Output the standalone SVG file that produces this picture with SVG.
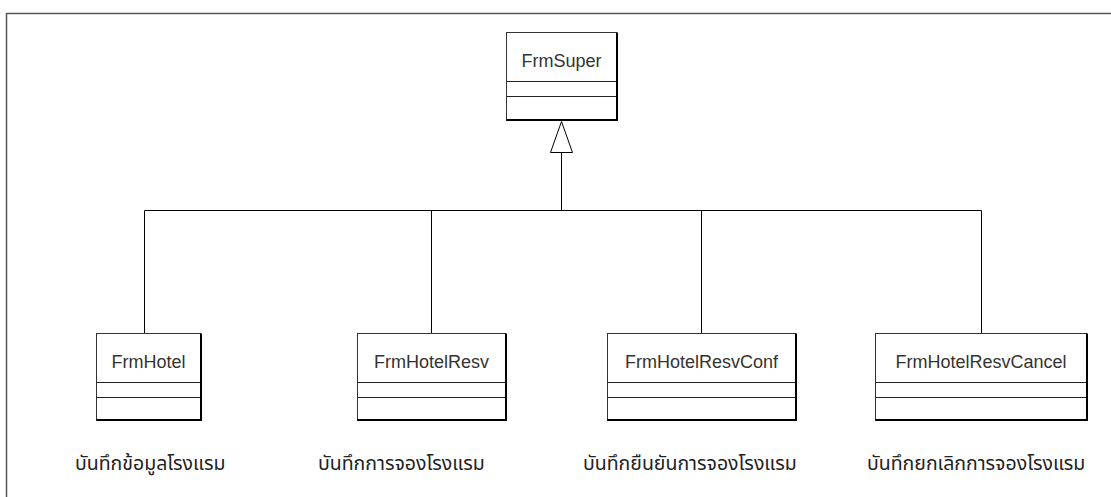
<svg xmlns="http://www.w3.org/2000/svg" width="1111" height="497" viewBox="0 0 1111 497">
<style>
.frame{fill:none;stroke:#555;stroke-width:1.5}
.box{fill:#fff;stroke:#333;stroke-width:1}
.div{stroke:#222;stroke-width:1}
.shadow{stroke:#000;stroke-width:2;fill:none}
.name{font-family:"Liberation Sans",Arial,sans-serif;font-size:18px;fill:#333;text-anchor:middle}
.lbl{font-family:"Noto Sans Thai","Noto Sans","DejaVu Sans",sans-serif;font-size:19.5px;fill:#222}
.conn{stroke:#000;stroke-width:1;fill:none}
</style>
<rect width="1111" height="497" fill="#fff"/>
<path class="frame" d="M6.5,497 V13.5 H1111"/>
<g id="connectors">
<path class="conn" d="M144.5,334 V210.5 H981.5 V334"/>
<path class="conn" d="M431.5,210.5 V334"/>
<path class="conn" d="M701.5,210.5 V334"/>
<path class="conn" d="M561.5,210.5 V152.5"/>
<polygon class="conn" fill="#fff" points="561.5,121.5 572.5,152.5 550.5,152.5"/>
</g>
<g id="FrmSuper">
<rect class="box" x="506.5" y="32.5" width="110" height="88"/>
<path class="div" d="M506.5,81.5 H616.5 M506.5,96.5 H616.5"/>
<path class="shadow" d="M506.5,120 H617 V32.5"/>
<text class="name" x="561.5" y="67">FrmSuper</text>
</g>
<g id="FrmHotel">
<rect class="box" x="96.5" y="333.5" width="104" height="87"/>
<path class="div" d="M96.5,382.5 H200.5 M96.5,397.5 H200.5"/>
<path class="shadow" d="M96.5,420 H201 V333.5"/>
<text class="name" x="148.5" y="368">FrmHotel</text>
<text class="lbl" x="75" y="470">บันทึกข้อมูลโรงแรม</text>
</g>
<g id="FrmHotelResv">
<rect class="box" x="357.5" y="333.5" width="148" height="87"/>
<path class="div" d="M357.5,382.5 H505.5 M357.5,397.5 H505.5"/>
<path class="shadow" d="M357.5,420 H506 V333.5"/>
<text class="name" x="431.5" y="368">FrmHotelResv</text>
<text class="lbl" x="318" y="470">บันทึกการจองโรงแรม</text>
</g>
<g id="FrmHotelResvConf">
<rect class="box" x="607.5" y="333.5" width="188" height="87"/>
<path class="div" d="M607.5,382.5 H795.5 M607.5,397.5 H795.5"/>
<path class="shadow" d="M607.5,420 H796 V333.5"/>
<text class="name" x="701.5" y="368">FrmHotelResvConf</text>
<text class="lbl" x="583" y="470">บันทึกยืนยันการจองโรงแรม</text>
</g>
<g id="FrmHotelResvCancel">
<rect class="box" x="875.5" y="333.5" width="211" height="87"/>
<path class="div" d="M875.5,382.5 H1086.5 M875.5,397.5 H1086.5"/>
<path class="shadow" d="M875.5,420 H1087 V333.5"/>
<text class="name" x="981" y="368">FrmHotelResvCancel</text>
<text class="lbl" x="867" y="470">บันทึกยกเลิกการจองโรงแรม</text>
</g>
</svg>
